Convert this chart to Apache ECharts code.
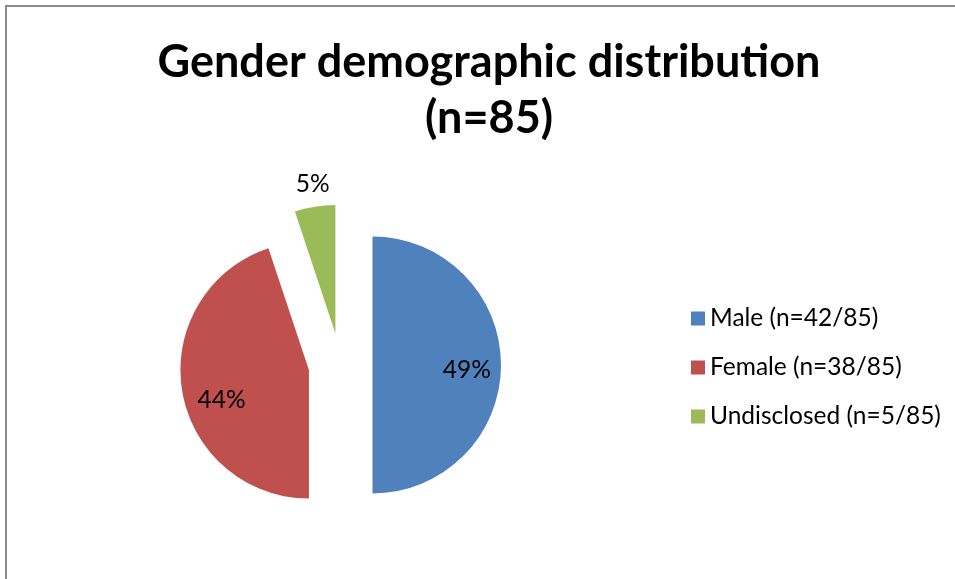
<!DOCTYPE html>
<html>
<head>
<meta charset="utf-8">
<script src="https://cdn.jsdelivr.net/npm/echarts@6/dist/echarts.min.js"></script>
<style>
html,body{margin:0;padding:0;background:#fff;}
#box{width:955px;height:579px;}
</style>
</head>
<body>
<div id="box"></div>
<script>
// data
var names = ["Male (n=42/85)", "Female (n=38/85)", "Undisclosed (n=5/85)"];
var percents = [49, 44, 5];
var colors = ["#4F81BD", "#C0504D", "#9BBB59"];
// label nudges (px) so they sit like the original
var labelOffsets = [[27, 5], [-21, 19], [-12, -83]];

var data = [];
var legendData = [];
for (var i = 0; i < names.length; i++) {
    data.push({
        value: percents[i],
        name: names[i],
        selected: true,
        itemStyle: {color: colors[i]}
    });
    legendData.push({name: names[i], icon: 'rect'});
}

var option = {
    animation: false,
    title: {
        text: 'Gender demographic distribution\n(n=85)',
        left: 484,
        top: 29,
        textAlign: 'center',
        textStyle: {
            fontFamily: 'Lato',
            fontWeight: 'bold',
            fontSize: 45,
            lineHeight: 56,
            color: '#000'
        }
    },
    legend: {
        orient: 'vertical',
        left: 686,
        top: 301,
        itemWidth: 14,
        itemHeight: 14,
        itemGap: 24,
        selectedMode: false,
        data: legendData,
        textStyle: {
            fontFamily: 'Lato',
            fontSize: 24.5,
            color: '#000'
        }
    },
    graphic: [{
        type: 'rect',
        shape: {x: 6, y: 6, width: 1000, height: 1000},
        style: {fill: 'none', stroke: '#8a8a8a', lineWidth: 2},
        silent: true
    }],
    series: [{
        type: 'pie',
        radius: 128.5,
        center: [340.5, 365],
        startAngle: 90,
        clockwise: true,
        selectedMode: 'multiple',
        selectedOffset: 32,
        data: data,
        label: {
            show: true,
            position: 'inside',
            formatter: '{c}%',
            fontFamily: 'Lato',
            fontSize: 24.5,
            color: '#000'
        },
        labelLine: {show: false},
        labelLayout: function (p) {
            var o = labelOffsets[p.dataIndex];
            return {dx: o[0], dy: o[1]};
        },
        emphasis: {scale: false, disabled: true},
        select: {itemStyle: {borderWidth: 0}}
    }]
};

var chart = echarts.init(document.getElementById('box'));
chart.setOption(option);
</script>
</body>
</html>
